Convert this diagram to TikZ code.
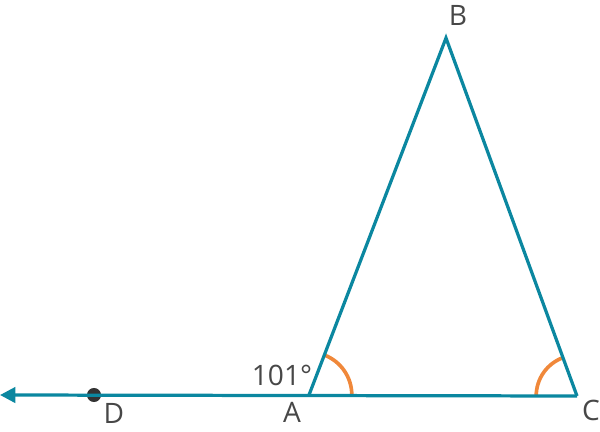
\documentclass[tikz,border=0pt]{standalone}
\usepackage{fontspec}
\setmainfont{Open Sans}
\usepackage{xcolor}
\usepackage{tikz}
\usetikzlibrary{arrows.meta,angles}

\definecolor{lineteal}{HTML}{0B87A0}
\definecolor{arcorange}{HTML}{F0883A}
\definecolor{dotgray}{HTML}{333333}

\begin{document}
\begin{tikzpicture}[
    x=0.025cm, y=-0.025cm,
    side/.style={draw=lineteal, line width=2.3pt, line join=miter},
    ray/.style={side, -{Triangle[length=11pt,width=11pt]}},
    mark arc/.style={draw=arcorange, line width=2.6pt},
    pt label/.style={font=\fontsize{20}{24}\selectfont, text=dotgray!90, inner sep=0pt}
]
    \useasboundingbox (0,0) rectangle (600,432);

    % vertices
    \coordinate (A) at (309,395);
    \coordinate (B) at (446,38);
    \coordinate (C) at (577,396);
    \coordinate (E) at (0,395);
    \node[circle, fill=dotgray, minimum size=10pt, inner sep=0pt] (D) at (94,395) {};

    % angle marks
    \pic[mark arc, angle radius=1.07cm] {angle = C--A--B};
    \pic[mark arc, angle radius=1.02cm] {angle = B--C--A};

    % triangle and ray
    \draw[side] (A) -- (B) -- (C);
    \draw[ray] (C) -- (E);

    % labels
    \node[pt label] (lB) at (458,15) {B};
    \node[pt label] (lA) at (292,412) {A};
    \node[pt label] (lC) at (591,410) {C};
    \node[pt label] (lD) at (114,413) {D};
    \node[pt label] (ext) at (282,375) {101°};
\end{tikzpicture}
\end{document}
